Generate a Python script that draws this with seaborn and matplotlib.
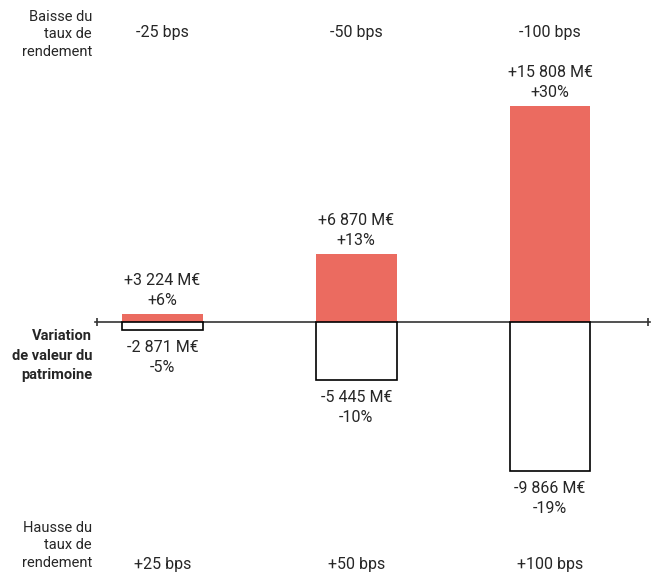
import matplotlib
matplotlib.use("Agg")
import matplotlib.pyplot as plt
import numpy as np
import pandas as pd
import seaborn as sns

# ── Data ──────────────────────────────────────────────────────────────────────
scenarios = ["25", "50", "100"]
down_labels = ["-25 bps", "-50 bps", "-100 bps"]   # baisse du taux
up_labels = ["+25 bps", "+50 bps", "+100 bps"]      # hausse du taux

gain_meur = [3224, 6870, 15808]
gain_pct = [6, 13, 30]
loss_meur = [-2871, -5445, -9866]
loss_pct = [-5, -10, -19]

# bar lengths as drawn in the source chart (not proportional to the labels)
gain_bar = [8, 68, 216]
loss_bar = [-8, -58, -149]

RED = "#EB6B60"
W, H = 660, 574


def fmt_meur(v):
    s = f"{abs(v):,}".replace(",", " ")
    return ("+" if v > 0 else "-") + s + " M€"


# ── Style ─────────────────────────────────────────────────────────────────────
sns.set_theme(style="white")
plt.rcParams["font.family"] = ["Roboto", "DejaVu Sans"]

fig = plt.figure(figsize=(W / 100, H / 100), dpi=100)
# axes spans the horizontal axis line (px 95 → 650), full height
ax = fig.add_axes([95 / W, 0, (650 - 95) / W, 1])

df = pd.DataFrame({"scenario": scenarios, "gain": gain_bar, "loss": loss_bar})
sns.barplot(data=df, x="scenario", y="gain", order=scenarios, color=RED,
            saturation=1, width=0.418, linewidth=0, ax=ax, zorder=2)
sns.barplot(data=df, x="scenario", y="loss", order=scenarios, color="white",
            saturation=1, width=0.418, edgecolor="black", linewidth=1.2,
            ax=ax, zorder=3)

unit = 193.75  # px per category
ax.set_xlim(-67.5 / unit, 2 + 100 / unit)
ax.set_ylim(-(H - 322), 322)

for s in ["left", "right", "top"]:
    ax.spines[s].set_visible(False)
ax.spines["bottom"].set_position(("data", 0))
ax.spines["bottom"].set_color("#333333")
ax.spines["bottom"].set_linewidth(1.2)
ax.spines["bottom"].set_zorder(1)
ax.set_xticks([-66 / unit, 2 + 98 / unit])
ax.set_xticklabels([])
ax.tick_params(axis="x", direction="inout", length=6, width=1.2,
               color="#333333", bottom=True)
ax.set_yticks([])
ax.set_xlabel("")
ax.set_ylabel("")

fs = 11.5
# value labels
for i in range(len(scenarios)):
    ax.text(i, gain_bar[i] + 6, f"{fmt_meur(gain_meur[i])}\n+{gain_pct[i]}%",
            ha="center", va="bottom", fontsize=fs, linespacing=1.4)
    ax.text(i, loss_bar[i] - 10, f"{fmt_meur(loss_meur[i])}\n{loss_pct[i]}%",
            ha="center", va="top", fontsize=fs, linespacing=1.4)
    ax.text(i, 322 - 33, down_labels[i], ha="center", va="center", fontsize=fs)
    ax.text(i, 322 - 565, up_labels[i], ha="center", va="center", fontsize=fs)

# side labels
fig.text(92 / W, 1 - 10 / H, "Baisse du\ntaux de\nrendement", ha="right",
         va="top", fontsize=10.5, linespacing=1.3)
fig.text(92 / W, 1 - 329 / H, "Variation\nde valeur du\npatrimoine", ha="right",
         va="top", fontsize=10.5, fontweight="bold", linespacing=1.5)
fig.text(92 / W, 1 - 521 / H, "Hausse du\ntaux de\nrendement", ha="right",
         va="top", fontsize=10.5, linespacing=1.3)

fig.savefig("out.png", dpi=100)
